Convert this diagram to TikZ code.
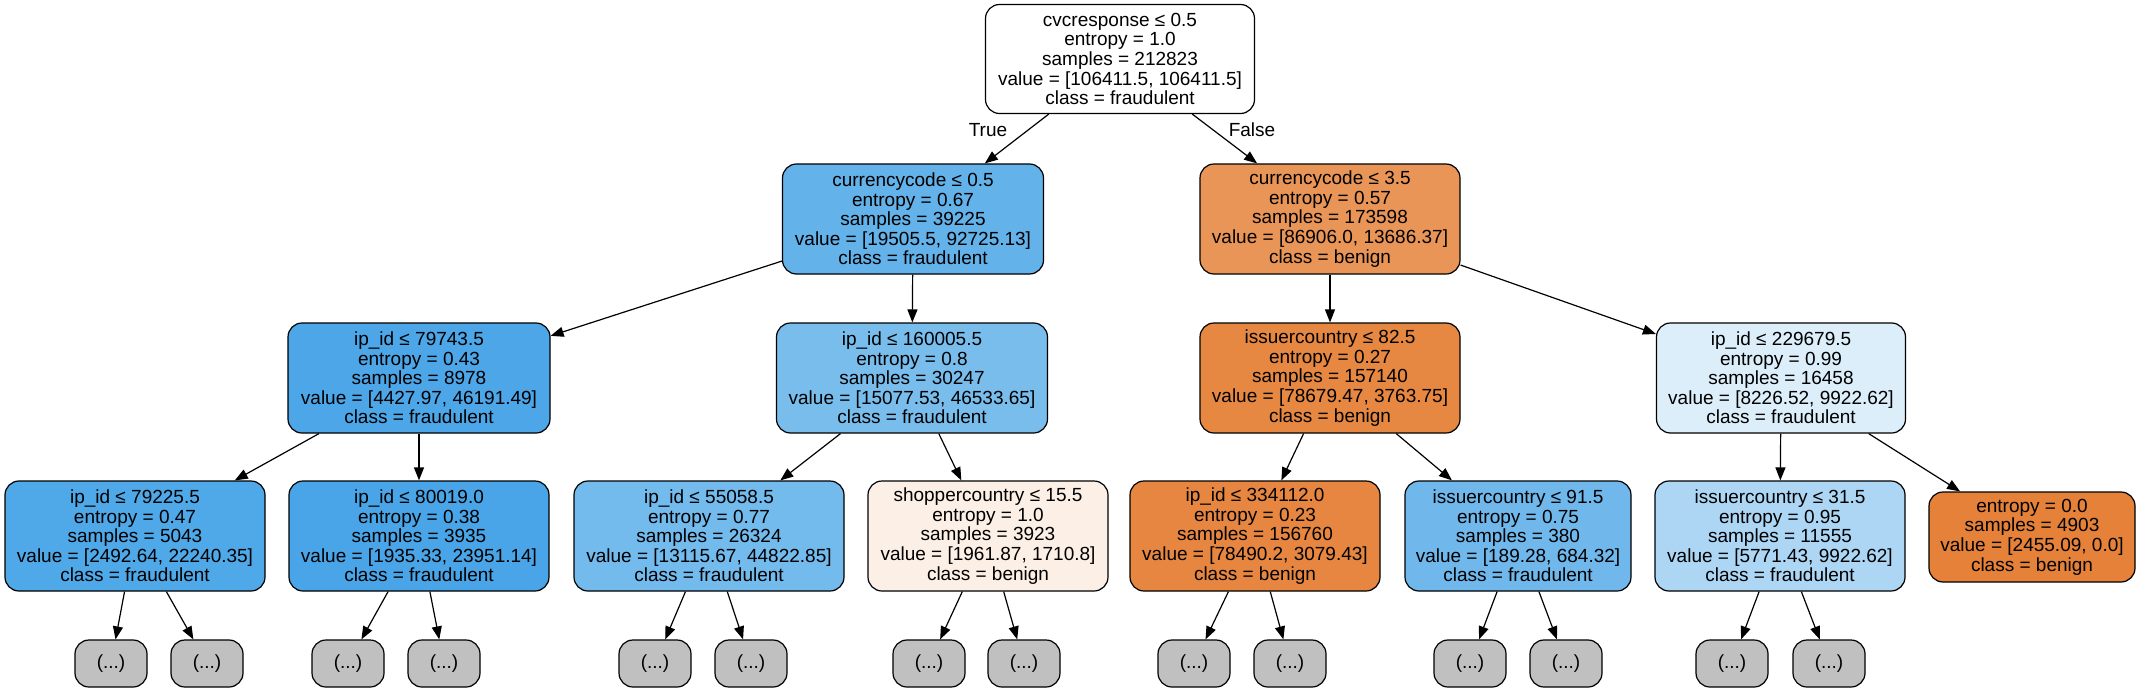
\documentclass[tikz,border=0pt]{standalone}
\usepackage{fontspec}
\setmainfont{Liberation Sans}
\usetikzlibrary{arrows.meta}
\definecolor{cA}{RGB}{99,178,234}
\definecolor{cB}{RGB}{233,149,88}
\definecolor{cC}{RGB}{76,166,231}
\definecolor{cD}{RGB}{121,189,237}
\definecolor{cE}{RGB}{230,135,66}
\definecolor{cF}{RGB}{221,238,251}
\definecolor{cG}{RGB}{79,168,232}
\definecolor{cH}{RGB}{73,165,231}
\definecolor{cI}{RGB}{115,186,237}
\definecolor{cJ}{RGB}{252,239,230}
\definecolor{cK}{RGB}{230,134,65}
\definecolor{cL}{RGB}{112,184,236}
\definecolor{cM}{RGB}{172,214,244}
\definecolor{cN}{RGB}{229,129,57}
\definecolor{leafgray}{RGB}{192,192,192}
\begin{document}
\begin{tikzpicture}[x=1pt,y=-1pt,
  tree/.style={draw=black, line width=1.2pt, rounded corners=14pt, align=center, inner sep=0pt,
    minimum height=110pt, font=\fontsize{19pt}{19.6pt}\selectfont},
  leafbox/.style={tree, fill=leafgray, minimum width=72pt, minimum height=47pt},
  edge/.style={-{Triangle[length=13pt,width=10pt]}, line width=1.2pt},
  lbl/.style={font=\fontsize{19pt}{19.6pt}\selectfont, inner sep=0pt}]
\fill[white] (0,0) rectangle (2141,693);
\useasboundingbox (0,0) rectangle (2141,693);

% level 0
\node[tree, fill=white, minimum width=269pt, minimum height=109pt] (n0) at (1120,59)
  {cvcresponse ≤ 0.5\\entropy = 1.0\\samples = 212823\\value = [106411.5, 106411.5]\\class = fraudulent};
% level 1
\node[tree, fill=cA, minimum width=261pt] (n1) at (913,219)
  {currencycode ≤ 0.5\\entropy = 0.67\\samples = 39225\\value = [19505.5, 92725.13]\\class = fraudulent};
\node[tree, fill=cB, minimum width=260pt] (n2) at (1330,219)
  {currencycode ≤ 3.5\\entropy = 0.57\\samples = 173598\\value = [86906.0, 13686.37]\\class = benign};
% level 2
\node[tree, fill=cC, minimum width=262pt] (n3) at (419,378)
  {ip\_id ≤ 79743.5\\entropy = 0.43\\samples = 8978\\value = [4427.97, 46191.49]\\class = fraudulent};
\node[tree, fill=cD, minimum width=271pt] (n4) at (912,378)
  {ip\_id ≤ 160005.5\\entropy = 0.8\\samples = 30247\\value = [15077.53, 46533.65]\\class = fraudulent};
\node[tree, fill=cE, minimum width=260pt] (n5) at (1330,378)
  {issuercountry ≤ 82.5\\entropy = 0.27\\samples = 157140\\value = [78679.47, 3763.75]\\class = benign};
\node[tree, fill=cF, minimum width=249pt] (n6) at (1781,378)
  {ip\_id ≤ 229679.5\\entropy = 0.99\\samples = 16458\\value = [8226.52, 9922.62]\\class = fraudulent};
% level 3
\node[tree, fill=cG, minimum width=260pt] (n7) at (135,536)
  {ip\_id ≤ 79225.5\\entropy = 0.47\\samples = 5043\\value = [2492.64, 22240.35]\\class = fraudulent};
\node[tree, fill=cH, minimum width=260pt] (n8) at (419,536)
  {ip\_id ≤ 80019.0\\entropy = 0.38\\samples = 3935\\value = [1935.33, 23951.14]\\class = fraudulent};
\node[tree, fill=cI, minimum width=270pt] (n9) at (709,536)
  {ip\_id ≤ 55058.5\\entropy = 0.77\\samples = 26324\\value = [13115.67, 44822.85]\\class = fraudulent};
\node[tree, fill=cJ, minimum width=240pt] (n10) at (988,536)
  {shoppercountry ≤ 15.5\\entropy = 1.0\\samples = 3923\\value = [1961.87, 1710.8]\\class = benign};
\node[tree, fill=cK, minimum width=250pt] (n11) at (1255,536)
  {ip\_id ≤ 334112.0\\entropy = 0.23\\samples = 156760\\value = [78490.2, 3079.43]\\class = benign};
\node[tree, fill=cL, minimum width=226pt] (n12) at (1518,536)
  {issuercountry ≤ 91.5\\entropy = 0.75\\samples = 380\\value = [189.28, 684.32]\\class = fraudulent};
\node[tree, fill=cM, minimum width=250pt] (n13) at (1780,536)
  {issuercountry ≤ 31.5\\entropy = 0.95\\samples = 11555\\value = [5771.43, 9922.62]\\class = fraudulent};
\node[tree, fill=cN, minimum width=206pt, minimum height=90pt] (n14) at (2032,537)
  {entropy = 0.0\\samples = 4903\\value = [2455.09, 0.0]\\class = benign};
% level 4 leaves
\node[leafbox] (l1) at (111,663.5) {(...)};
\node[leafbox] (l2) at (207,663.5) {(...)};
\node[leafbox] (l3) at (348,663.5) {(...)};
\node[leafbox] (l4) at (444,663.5) {(...)};
\node[leafbox] (l5) at (655,663.5) {(...)};
\node[leafbox] (l6) at (751,663.5) {(...)};
\node[leafbox] (l7) at (929,663.5) {(...)};
\node[leafbox] (l8) at (1024,663.5) {(...)};
\node[leafbox] (l9) at (1194,663.5) {(...)};
\node[leafbox] (l10) at (1290,663.5) {(...)};
\node[leafbox] (l11) at (1470,663.5) {(...)};
\node[leafbox] (l12) at (1566,663.5) {(...)};
\node[leafbox] (l13) at (1732,663.5) {(...)};
\node[leafbox] (l14) at (1829,663.5) {(...)};

% edges
\draw[edge] (n0) -- (n1);
\draw[edge] (n0) -- (n2);
\draw[edge] (n1) -- (n3);
\draw[edge] (n1) -- (n4);
\draw[edge] (n2) -- (n5);
\draw[edge] (n2) -- (n6);
\draw[edge] (n3) -- (n7);
\draw[edge] (n3) -- (n8);
\draw[edge] (n4) -- (n9);
\draw[edge] (n4) -- (n10);
\draw[edge] (n5) -- (n11);
\draw[edge] (n5) -- (n12);
\draw[edge] (n6) -- (n13);
\draw[edge] (n6) -- (n14);
\draw[edge] (n7) -- (l1);
\draw[edge] (n7) -- (l2);
\draw[edge] (n8) -- (l3);
\draw[edge] (n8) -- (l4);
\draw[edge] (n9) -- (l5);
\draw[edge] (n9) -- (l6);
\draw[edge] (n10) -- (l7);
\draw[edge] (n10) -- (l8);
\draw[edge] (n11) -- (l9);
\draw[edge] (n11) -- (l10);
\draw[edge] (n12) -- (l11);
\draw[edge] (n12) -- (l12);
\draw[edge] (n13) -- (l13);
\draw[edge] (n13) -- (l14);

\node[lbl] (tlbl) at (988,130) {True};
\node[lbl] (flbl) at (1252,130) {False};
\end{tikzpicture}
\end{document}
